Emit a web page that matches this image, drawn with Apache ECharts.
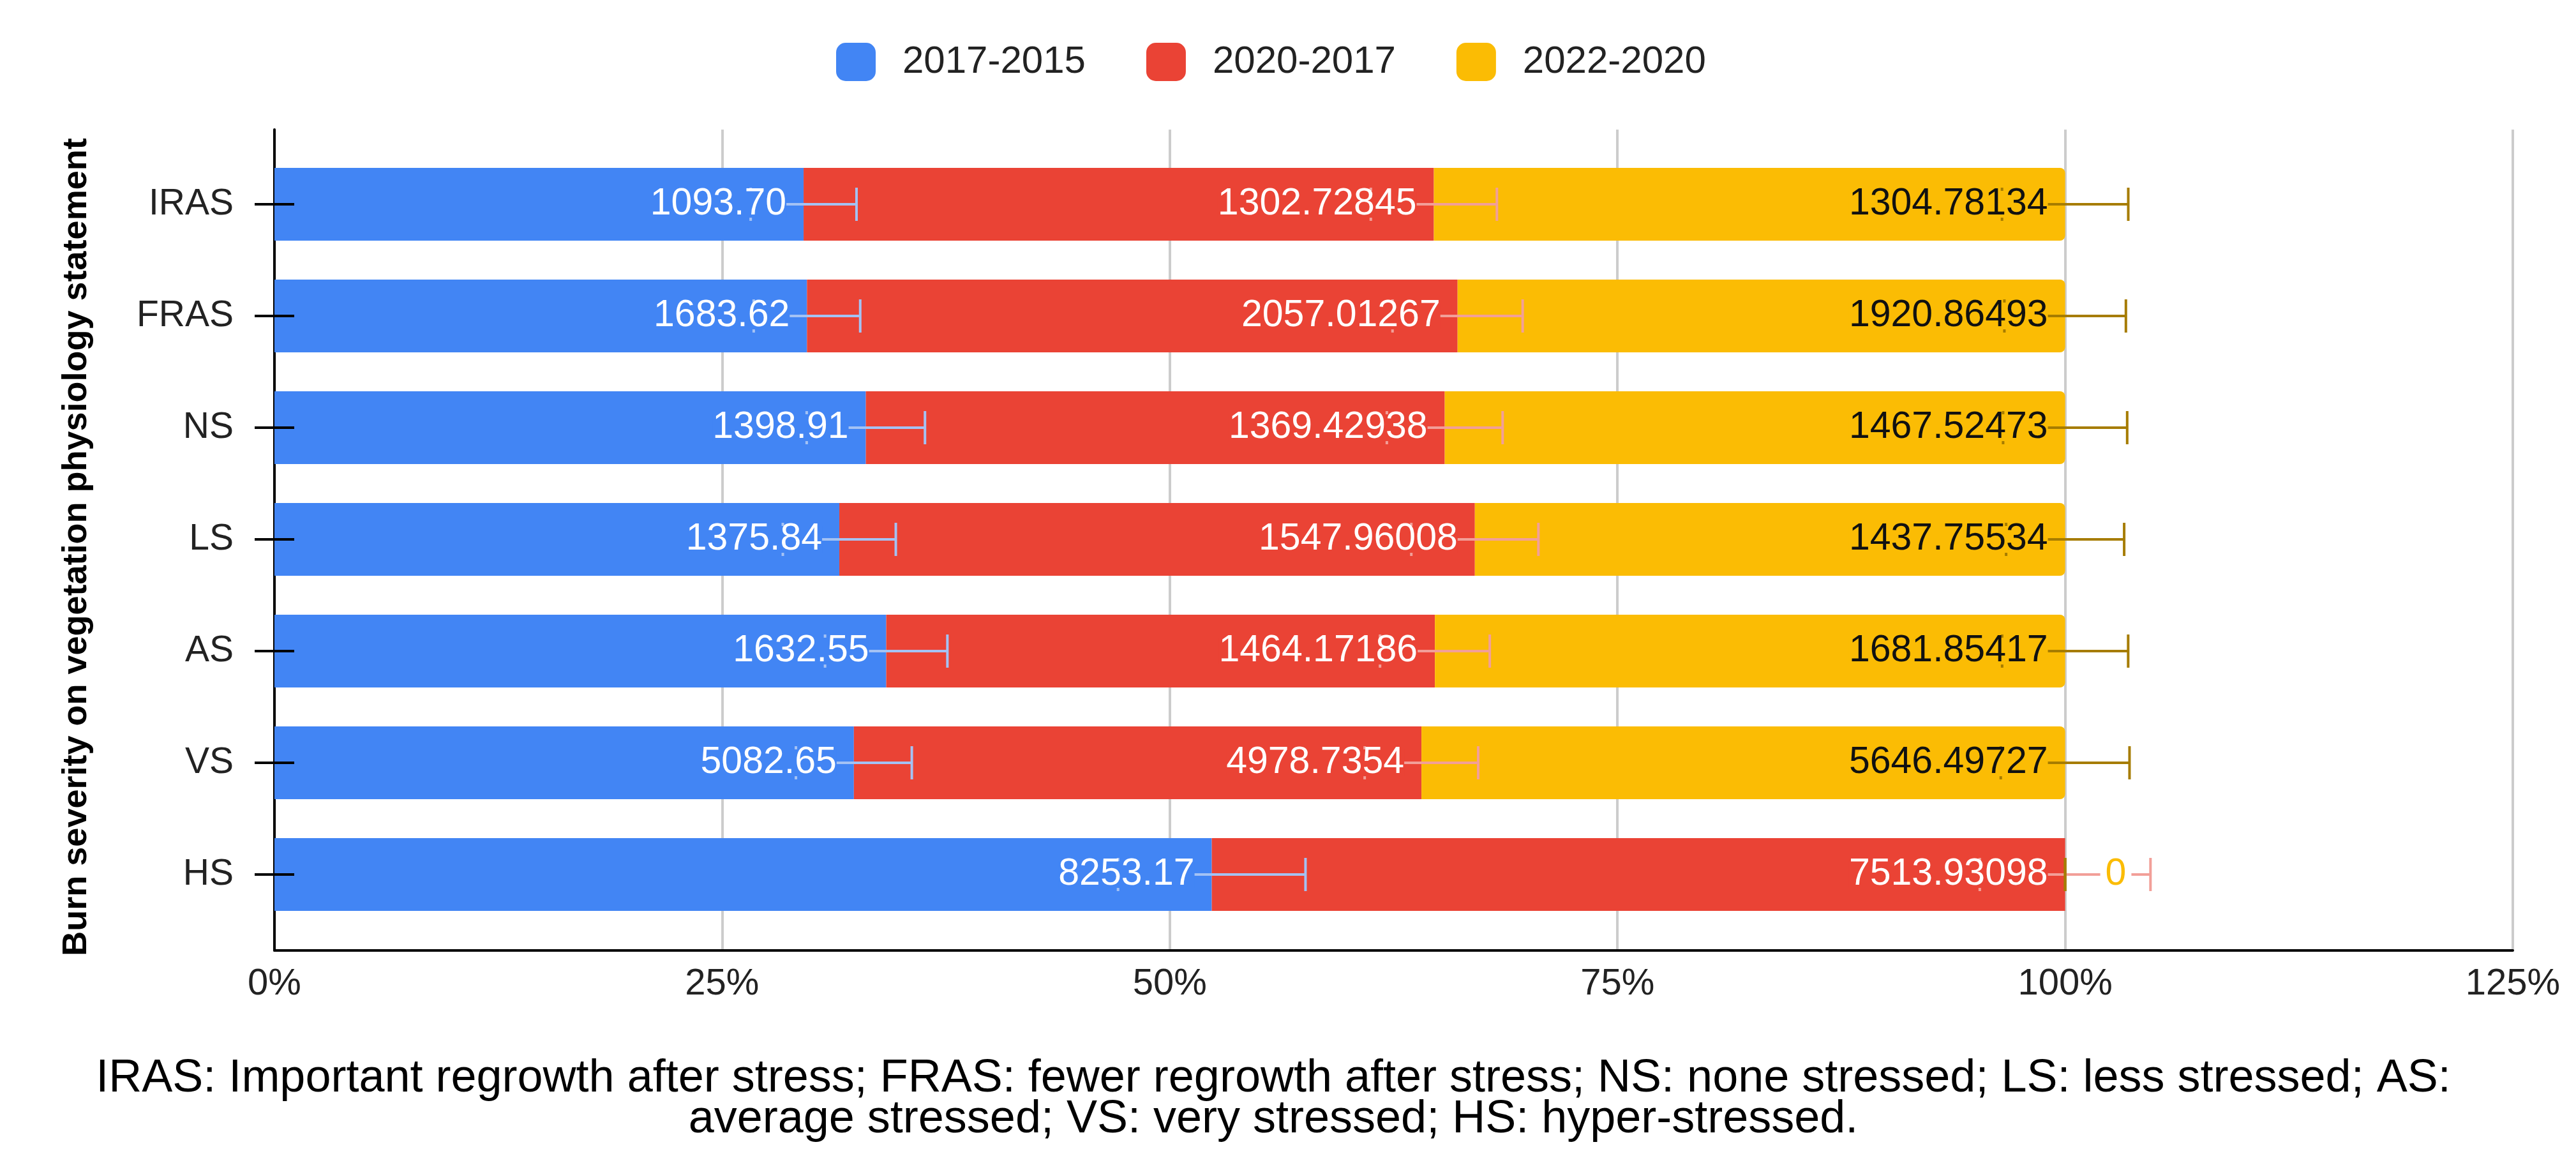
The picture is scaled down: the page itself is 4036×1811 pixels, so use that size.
<!DOCTYPE html>
<html>
<head>
<meta charset="utf-8">
<script src="https://cdn.jsdelivr.net/npm/echarts/dist/echarts.min.js"></script>
<style>
html,body{margin:0;padding:0;background:#ffffff;}
#chart{width:4036px;height:1811px;}
</style>
</head>
<body>
<div id="chart"></div>
<script>
// ---------------- data ----------------
const categories = ['IRAS', 'FRAS', 'NS', 'LS', 'AS', 'VS', 'HS'];
const seriesNames = ['2017-2015', '2020-2017', '2022-2020'];
const values2017_2015 = [1093.70, 1683.62, 1398.91, 1375.84, 1632.55, 5082.65, 8253.17];
const values2020_2017 = [1302.72845, 2057.01267, 1369.42938, 1547.96008, 1464.17186, 4978.7354, 7513.93098];
const values2022_2020 = [1304.78134, 1920.86493, 1467.52473, 1437.75534, 1681.85417, 5646.49727, 0];
const labelDecimals = [2, null, null];          // blue labels shown with 2 decimals
const errorPercentOfValue = 10;                  // percentage error bars (10 % of each segment)
const xTicks = [0, 0.25, 0.5, 0.75, 1, 1.25];
const yAxisTitle = 'Burn severity on vegetation physiology statement';
const footnoteLines = [
  'IRAS: Important regrowth after stress; FRAS: fewer regrowth after stress; NS: none stressed; LS: less stressed; AS:',
  'average stressed; VS: very stressed; HS: hyper-stressed.'
];

// ---------------- styles ----------------
const FONT = 'Arial, "Liberation Sans", Helvetica, sans-serif';
const seriesColors = ['#4285F4', '#EA4335', '#FBBC04'];
const errorColors = ['#A4C2F4', '#F29F98', '#A67C00'];
const labelColors = ['#FFFFFF', '#FFFFFF', '#111111'];

const allValues = [values2017_2015, values2020_2017, values2022_2020];
const totals = categories.map((c, i) => allValues.reduce((s, arr) => s + arr[i], 0));
const shares = allValues.map(arr => arr.map((v, i) => v / totals[i]));

// custom-series data: [categoryIndex, start, end, errorHalfWidth, rawValue]
const errData = shares.map((arr, s) => arr.map((sh, i) => {
  let start = 0;
  for (let k = 0; k < s; k++) start += shares[k][i];
  return [i, start, start + sh, sh * errorPercentOfValue / 100, allValues[s][i]];
}));

function fmt(v, s) {
  return labelDecimals[s] != null ? v.toFixed(labelDecimals[s]) : String(v);
}

function makeRender(s) {
  return function (params, api) {
    const cat = api.value(0), end = api.value(2), err = api.value(3), raw = api.value(4);
    const p = api.coord([end, cat]);
    const y = p[1];
    const xL = api.coord([end - err, cat])[0];
    const xR = api.coord([end + err, cat])[0];
    const half = 26;
    const ec = errorColors[s];
    const children = [
      { type: 'line', shape: { x1: xL, y1: y, x2: xR, y2: y }, style: { stroke: ec, lineWidth: 4 } },
      { type: 'line', shape: { x1: xL, y1: y - half, x2: xL, y2: y + half }, style: { stroke: ec, lineWidth: 4 } },
      { type: 'line', shape: { x1: xR, y1: y - half, x2: xR, y2: y + half }, style: { stroke: ec, lineWidth: 4 } }
    ];
    const txt = fmt(raw, s);
    if (raw === 0) {
      children.push({
        type: 'text',
        style: {
          text: txt, x: p[0] + 55, y: y, align: 'left', verticalAlign: 'middle',
          fill: seriesColors[s], fontSize: 59, fontFamily: FONT, lineHeight: 42,
          backgroundColor: '#ffffff', padding: [0, 8]
        }
      });
    } else {
      children.push({
        type: 'text',
        style: {
          text: txt, x: p[0] - 27, y: y, align: 'right', verticalAlign: 'middle',
          fill: labelColors[s], fontSize: 59, fontFamily: FONT, lineHeight: 42,
          backgroundColor: seriesColors[s]
        }
      });
    }
    return { type: 'group', children: children };
  };
}

const chart = echarts.init(document.getElementById('chart'), null, { renderer: 'canvas' });

const barSeries = seriesNames.map((name, s) => ({
  name: name,
  type: 'bar',
  stack: 'total',
  xAxisIndex: 0,
  yAxisIndex: 0,
  barWidth: 114,
  z: 2,
  data: shares[s],
  itemStyle: {
    color: seriesColors[s],
    borderRadius: s === 2 ? [0, 8, 8, 0] : 0
  },
  emphasis: { disabled: true },
  label: { show: false }
}));

const errSeries = seriesNames.map((name, s) => ({
  name: name + ' error',
  type: 'custom',
  xAxisIndex: 0,
  yAxisIndex: 0,
  z: 3,
  silent: true,
  renderItem: makeRender(s),
  encode: { x: 2, y: 0 },
  data: errData[s]
}));

const option = {
  animation: false,
  backgroundColor: '#ffffff',
  textStyle: { fontFamily: FONT },
  legend: {
    data: seriesNames,
    top: 62,
    left: 1305,
    icon: 'roundRect',
    itemWidth: 62,
    itemHeight: 60,
    itemGap: 95,
    selectedMode: false,
    textStyle: { fontSize: 60, color: '#222222', fontFamily: FONT, padding: [0, 0, 0, 37] }
  },
  grid: [
    { left: 430, right: 99, top: 232.5, bottom: 353.5 },   // bars (7 bands of 175 px)
    { left: 430, right: 99, top: 203, bottom: 322 }        // frame + gridlines
  ],
  xAxis: [
    { gridIndex: 0, type: 'value', min: 0, max: 1.25, interval: 0.25, show: false },
    {
      gridIndex: 1, type: 'value', min: xTicks[0], max: xTicks[xTicks.length - 1], interval: 0.25,
      axisLine: { show: true, lineStyle: { color: '#000000', width: 4 } },
      axisTick: { show: false },
      splitLine: { show: true, lineStyle: { color: '#CCCCCC', width: 4 } },
      axisLabel: {
        show: true, margin: 24, fontSize: 58, color: '#222222', fontFamily: FONT,
        showMinLabel: true, showMaxLabel: true,
        formatter: v => Math.round(v * 100) + '%'
      }
    }
  ],
  yAxis: [
    {
      gridIndex: 0, type: 'category', data: categories, inverse: true, position: 'left',
      axisLine: { show: false },
      axisTick: { show: true, alignWithLabel: true, length: 31, lineStyle: { color: '#000000', width: 4 } },
      axisLabel: { show: true, margin: 64, fontSize: 57, color: '#222222', fontFamily: FONT },
      splitLine: { show: false }
    },
    {
      gridIndex: 0, type: 'category', data: categories, inverse: true, position: 'left', z: 5,
      axisLine: { show: false },
      axisTick: { show: true, inside: true, alignWithLabel: true, length: 31, lineStyle: { color: '#000000', width: 4 } },
      axisLabel: { show: false },
      splitLine: { show: false }
    },
    {
      gridIndex: 1, type: 'value', min: 0, max: 1, position: 'left',
      axisLine: { show: true, lineStyle: { color: '#000000', width: 4 } },
      axisTick: { show: false },
      axisLabel: { show: false },
      splitLine: { show: false }
    }
  ],
  graphic: [
    {
      type: 'text', x: 120, y: 857, rotation: Math.PI / 2,
      style: {
        text: yAxisTitle, align: 'center', verticalAlign: 'middle',
        fill: '#000000', fontSize: 54, fontWeight: 'bold', fontFamily: FONT
      }
    },
    {
      type: 'text', x: 1995, y: 1722,
      style: {
        text: footnoteLines.join('\n'), align: 'center', verticalAlign: 'middle',
        fill: '#000000', fontSize: 72, lineHeight: 64, fontFamily: FONT
      }
    }
  ],
  series: barSeries.concat(errSeries)
};

chart.setOption(option);
</script>
</body>
</html>
